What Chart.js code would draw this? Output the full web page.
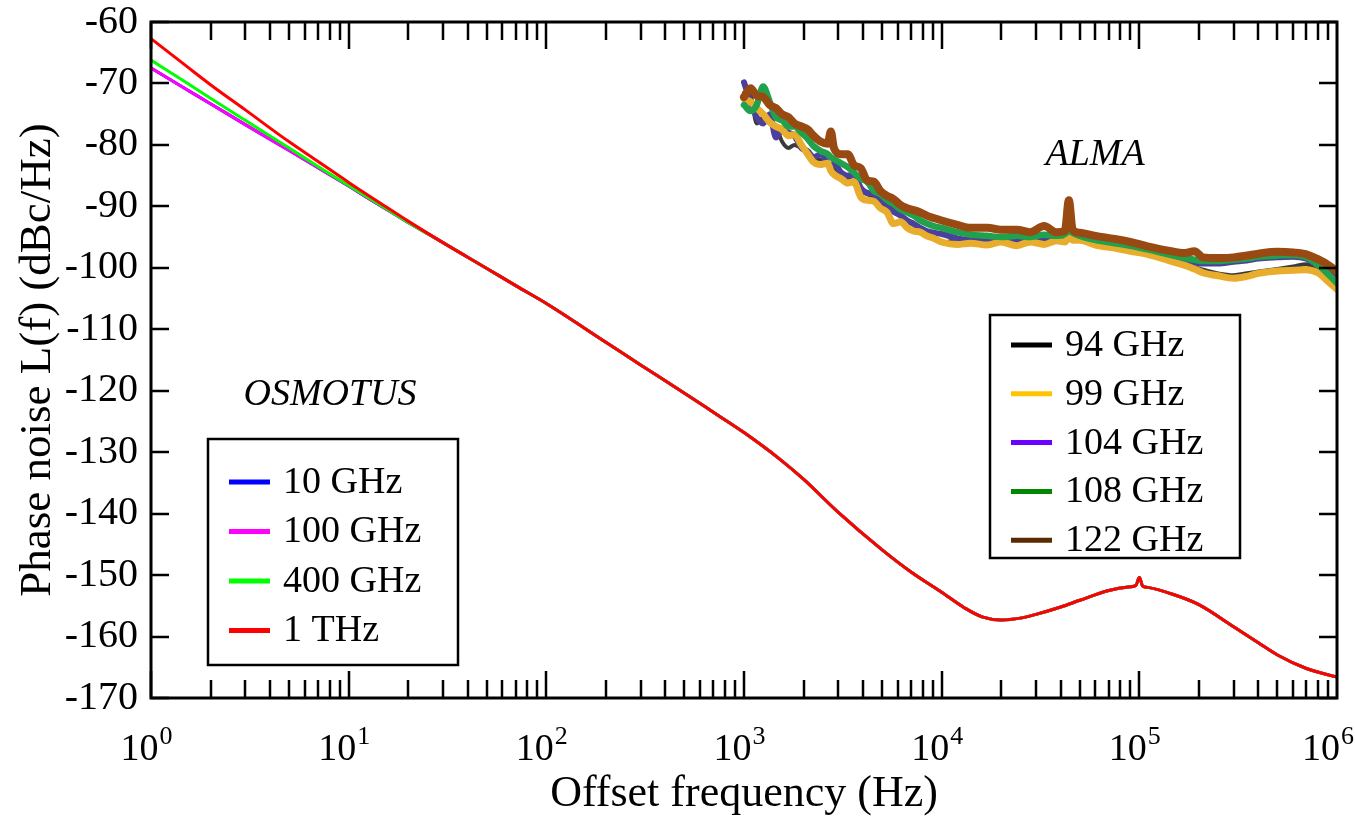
<!DOCTYPE html>
<html>
<head>
<meta charset="utf-8">
<script src="https://cdn.jsdelivr.net/npm/chart.js@4.4.1/dist/chart.umd.min.js"></script>
<style>
  html, body { margin: 0; padding: 0; background: #fff; }
  #wrap { width: 1355px; height: 821px; }
</style>
</head>
<body>
<div id="wrap"><canvas id="chart"></canvas></div>
<script>
const SERIF = "'Liberation Serif', 'Times New Roman', serif";

// OSMOTUS model curves (Hz, dBc/Hz). The four curves differ only below ~30 Hz.
const osmoHeadFreq = [1, 1.5, 2, 3, 5, 7, 10, 15, 20, 30];
const osmo10G  = [-67.5, -70.9, -73.3, -76.7, -80.9, -83.7, -86.7, -90.2, -92.6, -95.9];
const osmo100G = [-67.5, -70.9, -73.3, -76.7, -80.9, -83.7, -86.7, -90.2, -92.6, -95.9];
const osmo400G = [-66.2, -69.8, -72.4, -76.0, -80.5, -83.5, -86.6, -90.1, -92.6, -95.9];
const osmo1T   = [-62.7, -67.1, -70.2, -74.3, -79.5, -82.7, -86.1, -89.8, -92.4, -95.9];
const osmoTailFreq = [50, 70, 100, 200, 300, 500, 700, 1000, 1500, 2000, 3000, 5000, 7000,
  10000, 13000, 16000, 20000, 25000, 30000, 40000, 50000, 70000, 90000, 96000, 100000,
  104000, 110000, 150000, 200000, 300000, 400000, 500000, 700000, 1000000];
const osmoTail = [-100.1, -102.9, -105.8, -112.1, -115.8, -120.4, -123.5, -126.8, -131.0,
  -134.4, -139.8, -145.9, -149.5, -152.8, -155.3, -156.8, -157.3, -157.0, -156.4, -155.2,
  -154.1, -152.5, -151.9, -151.7, -150.4, -151.8, -152.0, -153.2, -154.8, -158.4, -161.0,
  -163.0, -165.2, -166.6];

// ALMA measured curves
const almaFreq = [1000, 1080, 1160, 1250, 1350, 1450, 1560, 1680, 1800, 1950,
  2100, 2250, 2450, 2650, 2750, 2850, 3100, 3350, 3600, 3900,
  4200, 4550, 4900, 5300, 5700, 6200, 6700, 7200, 7800, 8400,
  9100, 10000, 12000, 14000, 17000, 20000, 24000, 28000, 33000, 38000,
  42000, 44000, 46000, 50000, 60000, 75000, 90000, 110000, 140000, 170000,
  190000, 210000, 250000, 300000, 350000, 400000, 500000, 600000, 700000, 800000,
  900000, 1000000];
const alma94 = [-71.5, -72.0, -76.5, -75.5, -76.0, -77.0, -79.5, -80.5, -80.0, -80.5,
  -81.0, -82.0, -82.5, -83.0, -83.5, -84.0, -84.5, -85.5, -86.0, -87.5,
  -88.0, -88.5, -89.5, -90.0, -91.0, -91.5, -92.5, -93.0, -93.8, -94.2,
  -94.6, -96.0, -95.4, -95.8, -95.7, -95.6, -95.6, -95.8, -95.4, -95.5,
  -95.2, -94.8, -95.2, -95.4, -95.9, -96.5, -97.0, -97.5, -98.5, -99.3,
  -99.9, -100.3, -100.9, -101.2, -100.9, -100.6, -100.2, -99.8, -99.4, -100.4,
  -100.5, -100.6];
const alma99 = [-72.5, -73.0, -74.0, -75.0, -76.3, -77.0, -77.5, -78.5, -78.3, -80.0,
  -81.5, -82.8, -83.2, -83.0, -84.2, -84.8, -85.5, -86.2, -86.0, -88.5,
  -89.0, -89.2, -90.3, -91.0, -92.8, -92.5, -93.5, -94.0, -94.2, -94.8,
  -95.2, -95.8, -96.2, -96.0, -96.3, -95.8, -96.4, -95.8, -96.2, -95.6,
  -95.8, -95.0, -95.5, -95.5, -96.3, -96.8, -97.3, -97.8, -98.8, -99.6,
  -100.2, -100.8, -101.3, -101.7, -101.4, -100.9, -100.5, -100.4, -100.3, -100.8,
  -102.2, -103.5];
const alma104 = [-69.8, -73.0, -75.5, -76.5, -75.0, -78.8, -77.5, -78.0, -78.5, -80.5,
  -81.0, -82.0, -81.5, -83.0, -83.5, -83.0, -84.5, -85.0, -84.8, -87.0,
  -87.8, -88.0, -89.0, -89.8, -90.8, -91.5, -92.3, -92.8, -93.5, -94.0,
  -94.3, -94.5, -95.2, -95.5, -95.6, -95.5, -95.4, -95.6, -95.2, -95.4,
  -95.0, -94.6, -95.0, -95.3, -95.8, -96.3, -96.8, -97.3, -98.2, -98.8,
  -99.1, -99.3, -99.3, -99.0, -98.8, -98.5, -98.3, -98.2, -98.5, -99.5,
  -100.8, -101.8];
const alma108 = [-73.5, -74.5, -73.5, -70.5, -73.0, -75.5, -76.0, -77.0, -77.0, -78.0,
  -79.0, -80.2, -81.0, -81.5, -82.0, -82.3, -83.0, -83.6, -84.5, -85.5,
  -86.0, -87.5, -88.0, -89.0, -89.6, -90.5, -91.0, -91.5, -92.3, -92.8,
  -93.2, -93.5, -94.2, -94.6, -94.8, -95.0, -94.8, -95.0, -94.6, -94.8,
  -94.5, -94.0, -94.3, -94.8, -95.5, -96.0, -96.4, -97.0, -97.8, -98.4,
  -98.7, -98.9, -98.9, -98.7, -98.5, -98.2, -98.0, -97.9, -98.3, -99.5,
  -101.0, -102.5];
const alma122 = [-72.2, -70.8, -72.0, -72.2, -73.5, -74.0, -75.0, -75.5, -76.5, -77.0,
  -77.5, -78.5, -79.5, -79.8, -77.8, -80.5, -81.5, -81.5, -83.3, -83.8,
  -85.8, -86.0, -87.5, -88.3, -88.8, -89.8, -90.3, -90.6, -91.0, -91.5,
  -91.9, -92.3, -93.0, -93.5, -93.5, -93.8, -93.8, -94.2, -93.2, -94.2,
  -94.0, -89.0, -93.8, -94.3, -94.8, -95.3, -95.8, -96.5, -97.2, -97.6,
  -97.3, -98.3, -98.4, -98.3, -98.0, -97.7, -97.4, -97.5, -97.8, -98.6,
  -99.5, -100.6];

const yTickValues = [-170, -160, -150, -140, -130, -120, -110, -100, -90, -80, -70, -60];
const decades = [0, 1, 2, 3, 4, 5, 6];

// text labels placed in data coordinates
const notes = [
  { text: "OSMOTUS", x: 8.05, y: -120.7 },
  { text: "ALMA", x: 59700, y: -81.6 }
];

const osmoFreq = osmoHeadFreq.concat(osmoTailFreq);
function pts(freq, vals) {
  return freq.map((f, i) => ({ x: f, y: vals[i] }));
}

const datasets = [
  { label: "10 GHz", group: "osmo", data: pts(osmoFreq, osmo10G.concat(osmoTail)),
    borderColor: "#0000ff", legendColor: "#0000ff", borderWidth: 3, order: 13 },
  { label: "100 GHz", group: "osmo", data: pts(osmoFreq, osmo100G.concat(osmoTail)),
    borderColor: "#ff00ff", legendColor: "#ff00ff", borderWidth: 3, order: 12 },
  { label: "400 GHz", group: "osmo", data: pts(osmoFreq, osmo400G.concat(osmoTail)),
    borderColor: "#00ff00", legendColor: "#00ff00", borderWidth: 3, order: 11 },
  { label: "1 THz", group: "osmo", data: pts(osmoFreq, osmo1T.concat(osmoTail)),
    borderColor: "#ff0000", legendColor: "#ff0000", borderWidth: 3, order: 10 },
  { label: "94 GHz", group: "alma", data: pts(almaFreq, alma94),
    borderColor: "#3a3a3a", legendColor: "#000000", borderWidth: 4, order: 4 },
  { label: "99 GHz", group: "alma", data: pts(almaFreq, alma99),
    borderColor: "#e9ad2e", legendColor: "#ffc400", borderWidth: 7, order: 2 },
  { label: "104 GHz", group: "alma", data: pts(almaFreq, alma104),
    borderColor: "#4b409e", legendColor: "#6a00ff", borderWidth: 6, order: 3 },
  { label: "108 GHz", group: "alma", data: pts(almaFreq, alma108),
    borderColor: "#22a14c", legendColor: "#008800", borderWidth: 6.5, order: 1 },
  { label: "122 GHz", group: "alma", data: pts(almaFreq, alma122),
    borderColor: "#994a12", legendColor: "#5a2a00", borderWidth: 8, order: 0 }
];

function drawLegend(ctx, left, top, w, h, firstRow, rowGap, items) {
  ctx.save();
  ctx.lineWidth = 2.5;
  ctx.strokeStyle = "#000";
  ctx.strokeRect(left, top, w, h);
  ctx.font = "38px " + SERIF;
  ctx.fillStyle = "#000";
  ctx.textBaseline = "middle";
  ctx.textAlign = "left";
  items.forEach((ds, i) => {
    const yy = top + firstRow + i * rowGap;
    ctx.strokeStyle = ds.legendColor;
    ctx.lineWidth = 5;
    ctx.beginPath();
    ctx.moveTo(left + 21, yy);
    ctx.lineTo(left + 62, yy);
    ctx.stroke();
    ctx.fillText(ds.label, left + 75, yy + 1);
  });
  ctx.restore();
}

const frame = {
  id: "frame",
  afterDraw(chart) {
    const ctx = chart.ctx;
    const ca = chart.chartArea;
    const xs = chart.scales.x, ys = chart.scales.y;
    ctx.save();
    ctx.strokeStyle = "#000";
    // ticks on all four sides, pointing in
    ctx.lineWidth = 2.5;
    ctx.beginPath();
    decades.slice(0, -1).forEach(k => {
      for (let m = 1; m < 10; m++) {
        const px = Math.round(xs.getPixelForValue(m * Math.pow(10, k)));
        const len = m === 1 ? 27 : 18;
        ctx.moveTo(px, ca.bottom); ctx.lineTo(px, ca.bottom - len);
        ctx.moveTo(px, ca.top); ctx.lineTo(px, ca.top + len);
      }
    });
    ys.ticks.forEach(t => {
      const py = Math.round(ys.getPixelForValue(t.value));
      ctx.moveTo(ca.left, py); ctx.lineTo(ca.left + 18, py);
      ctx.moveTo(ca.right, py); ctx.lineTo(ca.right - 18, py);
    });
    ctx.stroke();
    // frame
    ctx.lineWidth = 3;
    ctx.strokeRect(ca.left, ca.top, ca.right - ca.left, ca.bottom - ca.top);

    // x tick labels 10^k
    ctx.fillStyle = "#000";
    ctx.textBaseline = "alphabetic";
    ctx.textAlign = "left";
    decades.forEach(k => {
      const px = xs.getPixelForValue(Math.pow(10, k));
      ctx.font = "38px " + SERIF;
      const w1 = ctx.measureText("10").width;
      ctx.font = "26px " + SERIF;
      const w2 = ctx.measureText(String(k)).width;
      let start = px - (w1 + w2) / 2 - 5;
      if (start + w1 + w2 > chart.width - 2) start = chart.width - 2 - w1 - w2;
      ctx.font = "38px " + SERIF;
      ctx.fillText("10", start, ca.bottom + 62);
      ctx.font = "26px " + SERIF;
      ctx.fillText(String(k), start + w1 + 1, ca.bottom + 46);
    });

    // group names
    ctx.font = "italic 38px " + SERIF;
    ctx.textAlign = "center";
    ctx.textBaseline = "middle";
    notes.forEach(n => {
      ctx.fillText(n.text, xs.getPixelForValue(n.x), ys.getPixelForValue(n.y));
    });
    ctx.restore();

    const dsOpts = chart.data.datasets;
    drawLegend(ctx, ca.left + 57, ca.top + 417, 250, 226, 43, 49.5,
      dsOpts.filter(d => d.group === "osmo"));
    drawLegend(ctx, ca.left + 839, ca.top + 293, 250, 243, 30, 48.8,
      dsOpts.filter(d => d.group === "alma"));
  }
};

new Chart(document.getElementById("chart"), {
  type: "line",
  data: { datasets },
  options: {
    responsive: true,
    maintainAspectRatio: false,
    animation: false,
    layout: { padding: { left: 0, top: 22, right: 18, bottom: 0 } },
    plugins: { legend: { display: false }, tooltip: { enabled: false } },
    elements: {
      point: { radius: 0 },
      line: { borderCapStyle: "round", borderJoinStyle: "round", cubicInterpolationMode: "monotone" }
    },
    scales: {
      x: {
        type: "logarithmic",
        min: 1,
        max: 1e6,
        grid: { display: false, drawTicks: false },
        border: { display: false },
        ticks: { display: false },
        title: {
          display: true, text: "Offset frequency (Hz)", color: "#000",
          font: { family: SERIF, size: 44 }, padding: { top: 0, bottom: 0 }
        },
        afterFit(s) { s.height = 123; s.paddingLeft = 0; s.paddingRight = 0; }
      },
      y: {
        min: -170,
        max: -60,
        grid: { display: false, drawTicks: false },
        border: { display: false },
        afterBuildTicks(s) { s.ticks = yTickValues.map(v => ({ value: v })); },
        ticks: { color: "#000", font: { family: SERIF, size: 40 }, padding: 13 },
        title: {
          display: true, text: "Phase noise L(f) (dBc/Hz)", color: "#000",
          font: { family: SERIF, size: 45 }, padding: { top: 11, bottom: 0 }
        },
        afterFit(s) { s.width = 151; s.paddingTop = 0; s.paddingBottom = 0; }
      }
    }
  },
  plugins: [frame]
});
</script>
</body>
</html>
